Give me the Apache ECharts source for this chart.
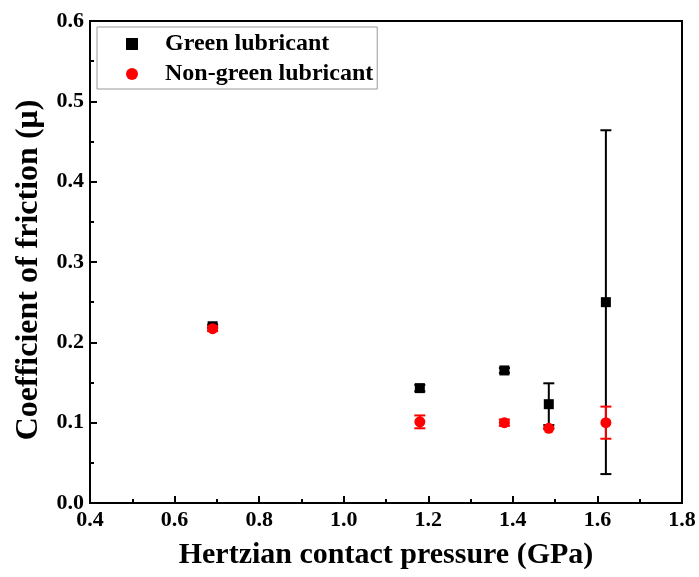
<!DOCTYPE html>
<html>
<head>
<meta charset="utf-8">
<script src="https://cdn.jsdelivr.net/npm/echarts@6/dist/echarts.min.js"></script>
<style>
html,body{margin:0;padding:0;background:#fff;}
#chart{width:699px;height:577px;}
</style>
</head>
<body>
<div id="chart"></div>
<script>
const xGreen = [0.69, 1.18, 1.38, 1.485, 1.62];
const yGreen = [0.220, 0.143, 0.165, 0.123, 0.250];
const errGreen = [0.002, 0.004, 0.003, 0.026, 0.214];
const xRed = [0.69, 1.18, 1.38, 1.485, 1.62];
const yRed = [0.217, 0.101, 0.100, 0.093, 0.100];
const errRed = [0.003, 0.008, 0.004, 0.001, 0.020];
const xTicks = { min: 0.4, max: 1.8, interval: 0.2 };
const yTicks = { min: 0.0, max: 0.6, interval: 0.1 };

const FONT = '"Liberation Serif", "Times New Roman", serif';

function errBar(color) {
  return function (params, api) {
    const x = api.value(0), y = api.value(1), e = api.value(2);
    const t = api.coord([x, y + e]);
    const b = api.coord([x, y - e]);
    const w = 5.5;
    const st = { stroke: color, lineWidth: 2 };
    return {
      type: 'group',
      children: [
        { type: 'line', shape: { x1: t[0], y1: t[1], x2: b[0], y2: b[1] }, style: st },
        { type: 'line', shape: { x1: t[0] - w, y1: t[1], x2: t[0] + w, y2: t[1] }, style: st },
        { type: 'line', shape: { x1: b[0] - w, y1: b[1], x2: b[0] + w, y2: b[1] }, style: st }
      ]
    };
  };
}

const chart = echarts.init(document.getElementById('chart'), null, { renderer: 'canvas' });
chart.setOption({
  animation: false,
  backgroundColor: '#fff',
  textStyle: { fontFamily: FONT },
  grid: { left: 90, right: 17, top: 21, bottom: 74, show: true, borderColor: '#000', borderWidth: 2, backgroundColor: 'transparent' },
  legend: {
    left: 97, top: 27, orient: 'vertical',
    data: [{ name: 'Green lubricant', icon: 'rect' }, { name: 'Non-green lubricant', icon: 'circle' }],
    itemWidth: 12, itemHeight: 12, itemGap: 6,
    padding: [5, 4, 3, 29],
    borderColor: '#999', borderWidth: 1,
    textStyle: { fontFamily: FONT, fontWeight: 'bold', fontSize: 24, color: '#000', lineHeight: 24, padding: [0, 0, 0, 22] }
  },
  xAxis: {
    type: 'value', min: xTicks.min, max: xTicks.max, interval: xTicks.interval,
    name: 'Hertzian contact pressure (GPa)', nameLocation: 'middle', nameGap: 37,
    nameTextStyle: { fontFamily: FONT, fontWeight: 'bold', fontSize: 30, color: '#000' },
    axisLine: { lineStyle: { color: '#000', width: 2 } },
    axisTick: { inside: true, length: 7, lineStyle: { color: '#000', width: 2 } },
    minorTick: { show: true, splitNumber: 2, length: 4, lineStyle: { color: '#000', width: 2 } },
    splitLine: { show: false },
    axisLabel: { margin: 6, fontFamily: FONT, fontWeight: 'bold', fontSize: 22, color: '#000', formatter: v => v.toFixed(1) }
  },
  yAxis: {
    type: 'value', min: yTicks.min, max: yTicks.max, interval: yTicks.interval,
    name: 'Coefficient of friction (μ)', nameLocation: 'middle', nameGap: 45,
    nameTextStyle: { fontFamily: FONT, fontWeight: 'bold', fontSize: 32, color: '#000', padding: [0, 16, 0, 0] },
    axisLine: { lineStyle: { color: '#000', width: 2 } },
    axisTick: { inside: true, length: 7, lineStyle: { color: '#000', width: 2 } },
    minorTick: { show: true, splitNumber: 2, length: 4, lineStyle: { color: '#000', width: 2 } },
    splitLine: { show: false },
    axisLabel: { margin: 6, fontFamily: FONT, fontWeight: 'bold', fontSize: 22, color: '#000', formatter: v => v.toFixed(1) }
  },
  series: [
    {
      name: 'Green lubricant', type: 'scatter', symbol: 'rect', symbolSize: 10,
      itemStyle: { color: '#000', opacity: 1 }, z: 2,
      data: xGreen.map((x, i) => [x, yGreen[i]])
    },
    {
      name: 'Green err', type: 'custom', renderItem: errBar('#000'), z: 3,
      data: xGreen.map((x, i) => [x, yGreen[i], errGreen[i]])
    },
    {
      name: 'Red err', type: 'custom', renderItem: errBar('#ff0000'), z: 4,
      data: xRed.map((x, i) => [x, yRed[i], errRed[i]])
    },
    {
      name: 'Non-green lubricant', type: 'scatter', symbol: 'circle', symbolSize: 11,
      itemStyle: { color: '#ff0000', opacity: 1 }, z: 5,
      data: xRed.map((x, i) => [x, yRed[i]])
    }
  ]
});
</script>
</body>
</html>
